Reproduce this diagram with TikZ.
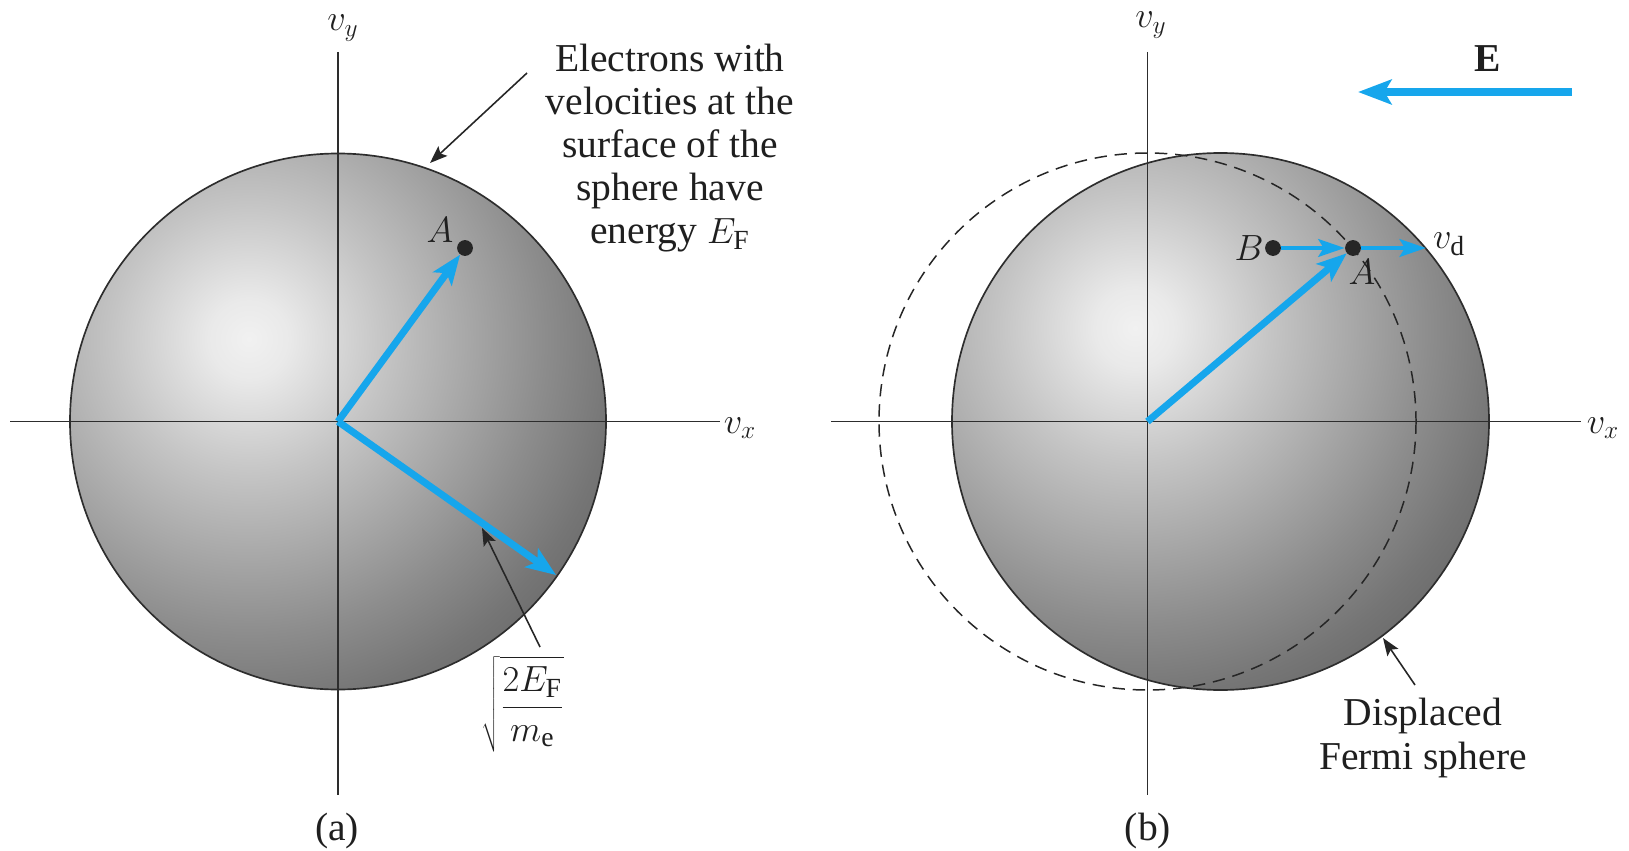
\documentclass[tikz,border=0pt]{standalone}
\usepackage{fontspec}
\setmainfont{Liberation Serif}
\usetikzlibrary{arrows.meta}
\definecolor{eblue}{RGB}{22,166,236}
\definecolor{axisc}{RGB}{45,45,45}
\definecolor{ga}{gray}{0.945}
\definecolor{gb}{gray}{0.915}
\definecolor{gc}{gray}{0.77}
\definecolor{gd}{gray}{0.66}
\definecolor{ge}{gray}{0.55}
\definecolor{gf}{gray}{0.46}
\definecolor{gg}{gray}{0.43}
\pgfdeclareradialshading{sphshade}{\pgfpointorigin}{color(0bp)=(ga); color(2.5bp)=(gb); color(8.5bp)=(gc); color(13.5bp)=(gd); color(18.5bp)=(ge); color(23bp)=(gf); color(25bp)=(gg); color(50bp)=(gg)}
\begin{document}
\begin{tikzpicture}[x=0.02cm,y=-0.02cm,
  axis/.style={draw=axisc,line width=0.95pt},
  rim/.style={draw=axisc,line width=0.95pt},
  dashcirc/.style={draw=black!85,line width=0.85pt,dash pattern=on 7pt off 4.5pt},
  vec/.style={eblue,line width=4pt,-{Stealth[length=17pt,width=13pt,inset=4pt]}},
  svec/.style={eblue,line width=2.6pt,-{Stealth[length=15pt,width=10pt,inset=3pt]}},
  evec/.style={eblue,line width=4.2pt,-{Stealth[length=19pt,width=14pt,inset=4pt]}},
  note/.style={black!85,line width=0.9pt,-{Stealth[length=10pt,width=7.5pt,inset=2pt]}},
  dot/.style={circle,fill=black!85,inner sep=0pt,minimum size=9pt},
  lbl/.style={font=\fontsize{22.5}{24.5}\selectfont,inner sep=0pt,text=black!88},
]
\useasboundingbox (0,0) rectangle (1629,851);

% ---------------- (a) ----------------
\coordinate (O1) at (338,421.5);
\begin{scope}
  \clip (O1) circle (268);
  \shade[shading=sphshade] (249,339) circle (400);
\end{scope}
\draw[rim] (O1) circle (268);
\coordinate (X1l) at (10,421.5);
\coordinate (X1r) at (720,421.5);
\coordinate (Y1t) at (338,52);
\coordinate (Y1b) at (338,795);
\draw[axis] (X1l) -- (X1r);
\draw[axis] (Y1t) -- (Y1b);
\node[lbl] (vx1) at (740,428) {$v_x$};
\node[lbl] (vy1) at (343,28) {$v_y$};

\node[dot] (A1) at (465,248) {};
\node[lbl] (A1l) at (440,230) {$A$};
\coordinate (S1) at (556,575);
\draw[vec] (O1) -- (A1);
\draw[vec] (O1) -- (S1);

\coordinate (n1t) at (527,73);
\coordinate (n1h) at (430,163);
\draw[note] (n1t) -- (n1h);
\node[lbl,align=center] (t1) at (670,148) {Electrons with\\velocities at the\\surface of the\\sphere have\\energy $E_{\mathrm{F}}$};

\coordinate (n2t) at (540,647);
\coordinate (n2h) at (482,528);
\draw[note] (n2t) -- (n2h);
\node[lbl] (sq) at (523,704) {$\displaystyle\sqrt{\frac{2E_{\mathrm{F}}}{m_{\mathrm{e}}}}$};

\node[lbl] (capa) at (337,831) {(a)};

% ---------------- (b) ----------------
\coordinate (O2) at (1147.5,421.5);
\coordinate (C2) at (1220.5,421.5);
\begin{scope}
  \clip (C2) circle (268.5);
  \shade[shading=sphshade] (1135,328) circle (400);
\end{scope}
\draw[rim] (C2) circle (268.5);
\draw[dashcirc] (O2) circle (268.5);
\coordinate (X2l) at (831,421.5);
\coordinate (X2r) at (1581,421.5);
\coordinate (Y2t) at (1147.5,52);
\coordinate (Y2b) at (1147.5,795);
\draw[axis] (X2l) -- (X2r);
\draw[axis] (Y2t) -- (Y2b);
\node[lbl] (vx2) at (1603,428) {$v_x$};
\node[lbl] (vy2) at (1151,25) {$v_y$};

\node[dot] (B2) at (1273,248) {};
\node[dot] (A2) at (1353,248) {};
\node[lbl] (B2l) at (1249,248) {$B$};
\node[lbl] (A2l) at (1362,272) {$A$};
\coordinate (VD) at (1426,248);
\node[lbl] (vdl) at (1449,244) {$v_{\mathrm{d}}$};
\draw[vec] (O2) -- (A2);
\draw[svec] (B2) -- (A2);
\draw[svec] (A2) -- (VD);

\coordinate (E1) at (1572,92);
\coordinate (E2) at (1358,92);
\draw[evec] (E1) -- (E2);
\node[lbl] (El) at (1488,59) {$\mathbf{E}$};

\coordinate (n3t) at (1415,685);
\coordinate (n3h) at (1383,638);
\draw[note] (n3t) -- (n3h);
\node[lbl,align=center] (t2) at (1423,738) {Displaced\\Fermi sphere};

\node[lbl] (capb) at (1148,831) {(b)};
\end{tikzpicture}
\end{document}
